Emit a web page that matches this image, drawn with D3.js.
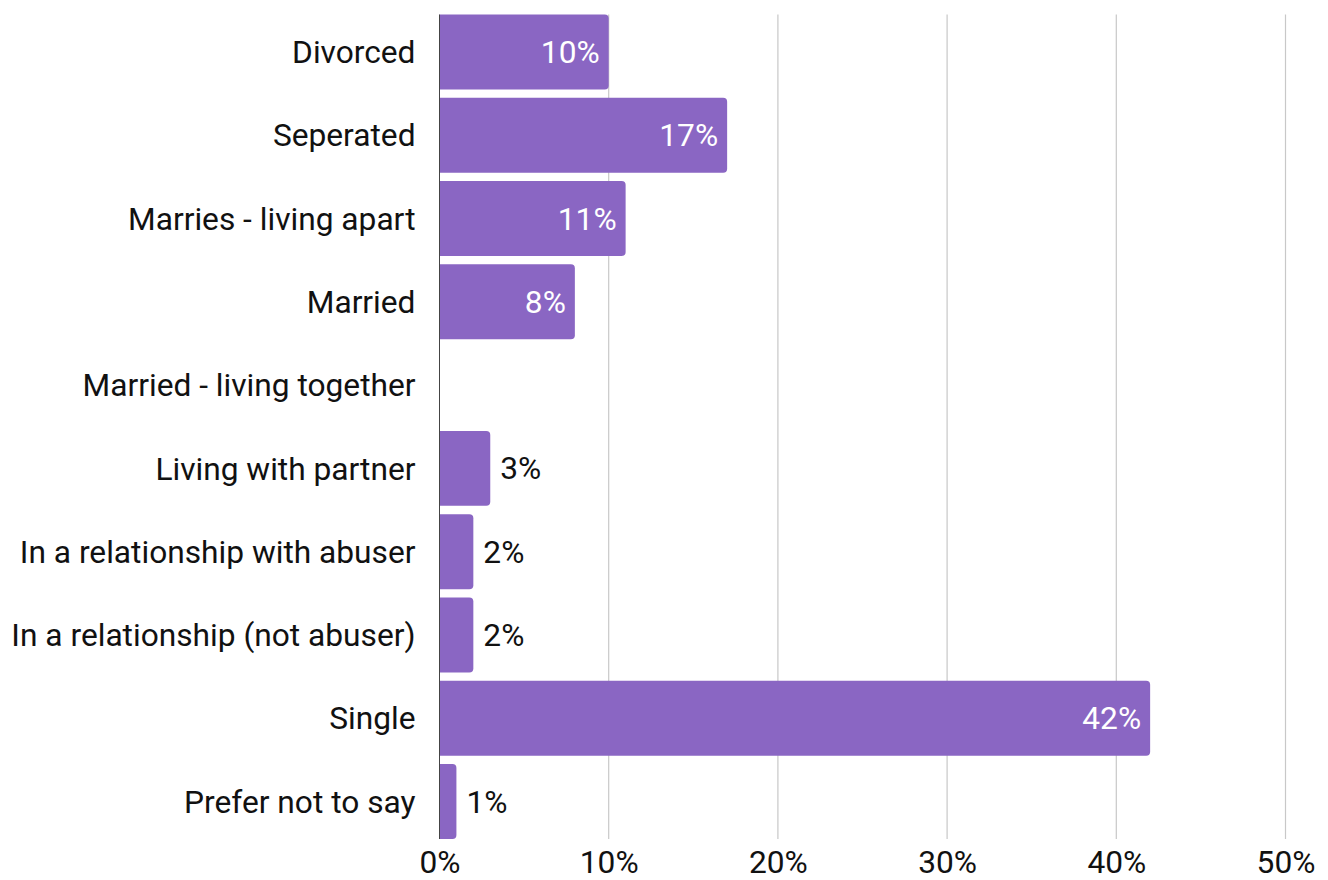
<!DOCTYPE html>
<html>
<head>
<meta charset="utf-8">
<script src="https://cdn.jsdelivr.net/npm/d3@7"></script>
<style>
  html, body { margin: 0; padding: 0; background: #fff; }
  svg { display: block; font-family: Roboto, "Noto Sans", sans-serif; }
</style>
</head>
<body>
<svg id="chart" width="1328" height="880"></svg>
<script>
// Relationship status of respondents (percent)
const categories = [
  "Divorced",
  "Seperated",
  "Marries - living apart",
  "Married",
  "Married - living together",
  "Living with partner",
  "In a relationship with abuser",
  "In a relationship (not abuser)",
  "Single",
  "Prefer not to say"
];
const values = [10, 17, 11, 8, 0, 3, 2, 2, 42, 1];
const xTicks = [0, 10, 20, 30, 40, 50];

const data = categories.map((c, i) => ({ category: c, value: values[i] }));

const svg = d3.select("#chart");
const margin = { left: 439.5, right: 42.5, top: 14.5, bottom: 41 };
const W = 1328, H = 880;

const x = d3.scaleLinear().domain([0, 50]).range([margin.left, W - margin.right]);
const y = d3.scaleBand().domain(categories)
  .range([margin.top, H - margin.bottom])
  .paddingInner(0.1).paddingOuter(0);

const barColor = "#8a66c3";
const fontSize = 31.7;

// vertical gridlines
svg.append("g")
  .selectAll("line")
  .data(xTicks.filter(t => t > 0))
  .join("line")
  .attr("x1", d => x(d)).attr("x2", d => x(d))
  .attr("y1", margin.top).attr("y2", H - margin.bottom)
  .attr("stroke", "#c8c8c8").attr("stroke-width", 1.2);

// x axis tick labels
const xAxis = d3.axisBottom(x).tickValues(xTicks).tickFormat(d => d + "%").tickSize(0).tickPadding(0);
const gx = svg.append("g").attr("transform", `translate(0,${H - margin.bottom})`).call(xAxis);
gx.select(".domain").remove();
gx.selectAll("text")
  .attr("font-family", "Roboto, sans-serif")
  .attr("font-size", fontSize)
  .attr("fill", "#111")
  .attr("dy", null)
  .attr("y", 33.5);

// category labels
const yAxis = d3.axisLeft(y).tickSize(0).tickPadding(0);
const gy = svg.append("g").attr("transform", `translate(${margin.left - 24},0)`).call(yAxis);
gy.select(".domain").remove();
gy.selectAll("text")
  .attr("font-family", "Roboto, sans-serif")
  .attr("font-size", fontSize)
  .attr("fill", "#111")
  .attr("dy", "0.35em");

// bars with rounded right corners
const r = 4;
function barPath(d) {
  const x0 = x(0), x1 = x(d.value), y0 = y(d.category), h = y.bandwidth();
  const rr = Math.min(r, (x1 - x0) / 2);
  return `M${x0},${y0}H${x1 - rr}Q${x1},${y0} ${x1},${y0 + rr}` +
         `V${y0 + h - rr}Q${x1},${y0 + h} ${x1 - rr},${y0 + h}H${x0}Z`;
}
svg.append("g")
  .selectAll("path")
  .data(data.filter(d => d.value > 0))
  .join("path")
  .attr("d", barPath)
  .attr("fill", barColor);

// baseline
svg.append("line")
  .attr("x1", x(0)).attr("x2", x(0))
  .attr("y1", margin.top).attr("y2", H - margin.bottom)
  .attr("stroke", "#444").attr("stroke-width", 1);

// value labels: inside (white) for wide bars, outside (black) for narrow ones
const insideMin = 5;
svg.append("g")
  .selectAll("text")
  .data(data.filter(d => d.value > 0))
  .join("text")
  .attr("x", d => d.value >= insideMin ? x(d.value) - 9 : x(d.value) + 10)
  .attr("y", d => y(d.category) + y.bandwidth() / 2)
  .attr("dy", "0.35em")
  .attr("text-anchor", d => d.value >= insideMin ? "end" : "start")
  .attr("font-size", fontSize)
  .attr("fill", d => d.value >= insideMin ? "#fff" : "#111")
  .text(d => d.value + "%");
</script>
</body>
</html>
